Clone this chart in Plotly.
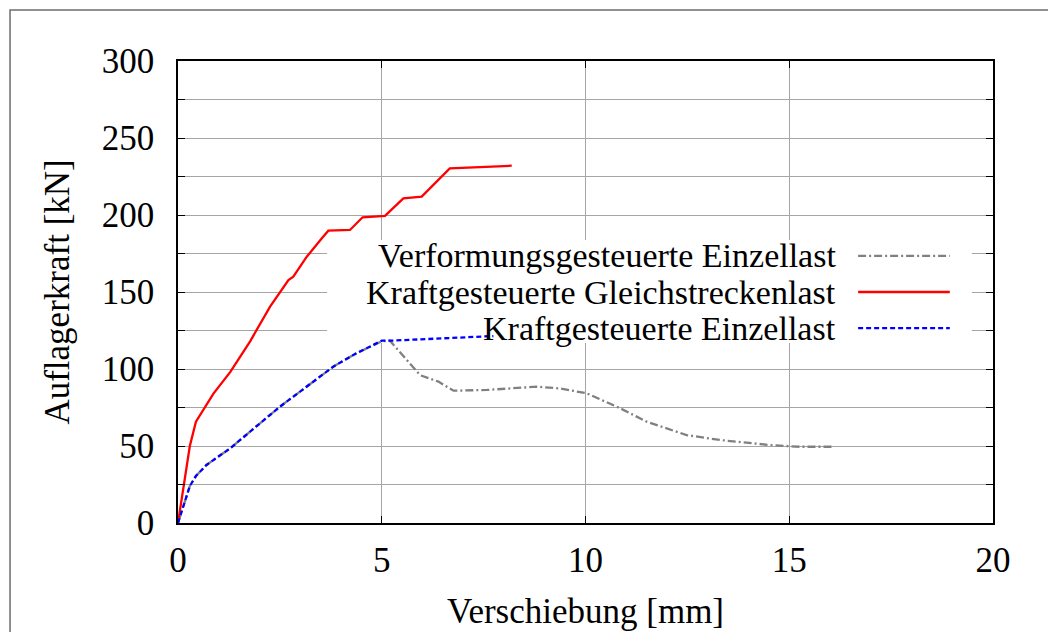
import plotly.graph_objects as go

# Verformungsgesteuerte Einzellast (displacement-controlled point load)
x_verf = [0.0, 0.12, 0.29, 0.44, 0.70, 1.28, 2.50, 3.81, 4.38, 5.0, 5.2, 5.94, 6.39, 6.76, 7.58,
          8.80, 9.37, 10.03, 10.85, 11.50, 12.48, 13.3, 14.53, 15.26, 16.08]
y_verf = [0.0, 10.5, 24.0, 30.5, 37.7, 48.5, 75.5, 101.5, 110.2, 118.0, 118.4, 96.0, 91.8, 85.9, 86.4,
          88.5, 87.4, 84.2, 74.5, 65.8, 57.1, 53.9, 50.6, 49.5, 49.5]

# Kraftgesteuerte Gleichstreckenlast (force-controlled distributed load)
x_gleich = [0.0, 0.29, 0.44, 0.66, 0.87, 1.28, 1.77, 2.26, 2.71, 2.83, 3.16, 3.53, 3.69, 4.22,
            4.53, 5.08, 5.53, 5.98, 6.67, 8.19]
y_gleich = [0.0, 50.0, 65.8, 75.5, 84.0, 98.0, 118.0, 140.5, 157.8, 160.0, 172.9, 184.9, 189.8, 190.3,
            198.5, 199.4, 210.8, 211.9, 230.3, 232.0]

# Kraftgesteuerte Einzellast (force-controlled point load)
x_einzel = [0.0, 0.12, 0.29, 0.44, 0.70, 1.28, 2.50, 3.81, 4.38, 5.0, 5.24, 7.74]
y_einzel = [0.0, 10.5, 24.0, 30.5, 37.7, 48.5, 75.5, 101.5, 110.2, 118.4, 118.4, 121.4]

series_names = ["Verformungsgesteuerte Einzellast",
                "Kraftgesteuerte Gleichstreckenlast",
                "Kraftgesteuerte Einzellast"]
series_colors = ["#808080", "#ff0000", "#0000ff"]
series_dash = ["8px,3px,2px,3px", "solid", "5px,3px"]

x_ticks = [0, 5, 10, 15, 20]
y_ticks = [0, 50, 100, 150, 200, 250, 300]

FONT = "Times New Roman, Liberation Serif, Tinos, serif"
FS = 35
FS_KEY = 34

fig = go.Figure()
for xs, ys, name, col, dash in zip([x_verf, x_gleich, x_einzel], [y_verf, y_gleich, y_einzel],
                                   series_names, series_colors, series_dash):
    fig.add_trace(go.Scatter(x=xs, y=ys, mode="lines", name=name,
                             line=dict(color=col, width=2.3, dash=dash),
                             showlegend=False))

shapes = []
# opaque key box (sits above the grid, below the curves)
shapes.append(dict(type="rect", xref="x", yref="y", x0=3.66, x1=19.48, y0=116.9, y1=183.8,
                   fillcolor="white", line=dict(width=0), layer="between"))

# key: text on the left, line sample on the right
key_rows = [173.4, 150.0, 126.6]
annotations = []
for yk, name, col, dash in zip(key_rows, series_names, series_colors, series_dash):
    shapes.append(dict(type="line", xref="x", yref="y", x0=16.69, x1=18.94, y0=yk, y1=yk,
                       line=dict(color=col, width=2.3, dash=dash), layer="above"))
    annotations.append(dict(x=16.2, y=yk, xref="x", yref="y", text=name, showarrow=False,
                            xanchor="right", yanchor="middle",
                            font=dict(family=FONT, size=FS_KEY, color="black")))

# outer frame
shapes.append(dict(type="rect", xref="paper", yref="paper", x0=-0.2061, x1=1.2, y0=-0.4, y1=1.1104,
                   line=dict(color="#6e6e6e", width=1.5), fillcolor="rgba(0,0,0,0)", layer="below"))

# axis titles
annotations.append(dict(x=0.5, y=(523 - 611) / 462.0, xref="paper", yref="paper",
                        text="Verschiebung [mm]", showarrow=False,
                        xanchor="center", yanchor="middle",
                        font=dict(family=FONT, size=FS, color="black")))
annotations.append(dict(x=-0.149, y=0.5, xref="paper", yref="paper", text="Auflagerkraft [kN]",
                        showarrow=False, textangle=-90, xanchor="center", yanchor="middle",
                        font=dict(family=FONT, size=FS, color="black")))

fig.update_layout(
    width=1048, height=632,
    margin=dict(l=178, r=55, t=61, b=109),
    paper_bgcolor="white", plot_bgcolor="white",
    font=dict(family=FONT, size=FS, color="black"),
    shapes=shapes, annotations=annotations,
    showlegend=False,
)
fig.update_xaxes(range=[0, 20], tickvals=x_ticks, ticktext=[str(v) for v in x_ticks],
                 showline=True, linecolor="black", linewidth=1.5, mirror="ticks",
                 ticks="inside", ticklen=7, tickcolor="black", tickwidth=1.2,
                 showgrid=True, gridcolor="#a6a6a6", gridwidth=1, zeroline=False,
                 ticklabelstandoff=5)
fig.update_yaxes(range=[0, 300], tickvals=y_ticks, ticktext=[str(v) for v in y_ticks],
                 showline=True, linecolor="black", linewidth=1.5, mirror="ticks",
                 ticks="inside", ticklen=7, tickcolor="black", tickwidth=1.2,
                 showgrid=True, gridcolor="#a6a6a6", gridwidth=1, zeroline=False,
                 minor=dict(dtick=25, tick0=0, ticks="inside", ticklen=7, tickcolor="black",
                            showgrid=True, gridcolor="#a6a6a6", gridwidth=1),
                 ticklabelstandoff=15)

fig.write_html("out.html")
